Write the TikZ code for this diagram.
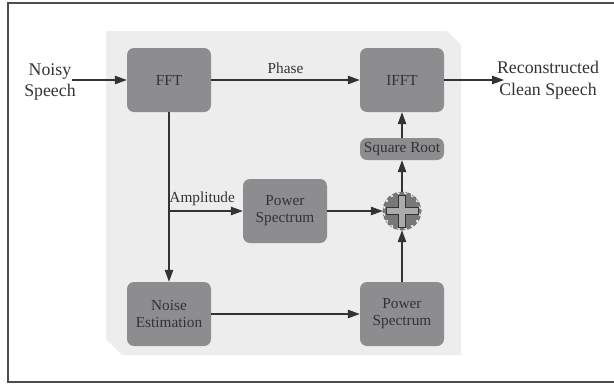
\documentclass[tikz,border=0pt]{standalone}
\usepackage{fontspec}
\setmainfont{Liberation Serif}
\usetikzlibrary{arrows.meta,calc}
\definecolor{boxgray}{HTML}{8D8D90}
\definecolor{panelgray}{HTML}{EDEDED}
\definecolor{ink}{HTML}{333333}
\definecolor{crossgray}{HTML}{ABABAB}
\tikzset{
  blk/.style={draw=none, fill=boxgray, rounded corners=7pt, minimum width=84pt, minimum height=64pt, align=center, font=\fontsize{15.3}{17}\selectfont, text=ink, inner sep=0pt},
  smallblk/.style={blk, minimum height=22pt},
  conn/.style={draw=ink, line width=1.1pt, -{Triangle[length=12pt,width=8.5pt]}},
  lbl/.style={font=\fontsize{15.3}{17}\selectfont, text=ink, inner sep=0pt},
  outer/.style={font=\fontsize{17.8}{21.5}\selectfont, text=ink, align=center, inner sep=0pt}
}
\begin{document}
\begin{tikzpicture}[x=1pt,y=-1pt]
\useasboundingbox (0,0) rectangle (614,386);
% outer frame
\draw[line width=1.5pt, draw=black!70] (614,3) -- (8,3) -- (8,382) -- (614,382);
% panel
\fill[panelgray] (106,31) -- (447,31) -- (461,45) -- (461,355) -- (122,355) -- (106,339) -- cycle;
% blocks
\node[blk] (fft) at (169,80) {FFT};
\node[blk] (ifft) at (402,80) {IFFT};
\node[smallblk] (sqr) at (402,149) {Square Root};
\node[blk] (ps1) at (285,211) {Power\\Spectrum};
\node[blk] (ne) at (169,314) {Noise\\Estimation};
\node[blk] (ps2) at (402,314) {Power\\Spectrum};
% adder
\node[circle, minimum size=38pt, inner sep=0pt] (add) at (402,211) {};
\fill[boxgray!85!black] (add.center) circle (17pt);
\foreach \a in {0,22.5,...,337.5} {
  \fill[boxgray!85!black] ($(add.center)+(\a:17pt)$) circle (2.6pt);
}
\draw[ink!70, line width=0.6pt, dash pattern=on 2pt off 1.5pt] (add.center) circle (19pt);
\draw[ink, line width=0.7pt, fill=crossgray]
  ($(add.center)+(-3.5,-16)$) -- ($(add.center)+(3.5,-16)$) -- ($(add.center)+(3.5,-3.5)$) -- ($(add.center)+(16,-3.5)$) -- ($(add.center)+(16,3.5)$) -- ($(add.center)+(3.5,3.5)$) -- ($(add.center)+(3.5,16)$) -- ($(add.center)+(-3.5,16)$) -- ($(add.center)+(-3.5,3.5)$) -- ($(add.center)+(-16,3.5)$) -- ($(add.center)+(-16,-3.5)$) -- ($(add.center)+(-3.5,-3.5)$) -- cycle;
% io labels
\node[outer] (in) at (50,82) {Noisy\\Speech};
\coordinate (instart) at (72,80);
\node[outer] (out) at (548,80) {Reconstructed\\Clean Speech};
\coordinate (outend) at (504,80);
\coordinate (branch) at (169,211);
% connectors
\draw[conn] (instart) -- (fft.west);
\draw[conn] (fft.east) -- node[lbl, above=6pt] {Phase} (ifft.west);
\draw[conn] (ifft.east) -- (outend);
\draw[conn] (fft.south) -- (ne.north);
\draw[conn] (branch) -- node[lbl, above=5pt, pos=0.45] {Amplitude} (ps1.west);
\draw[conn] (ps1.east) -- (add.west);
\draw[conn] (ps2.north) -- (add.south);
\draw[conn] (add.north) -- (sqr.south);
\draw[conn] (sqr.north) -- (ifft.south);
\draw[conn] (ne.east) -- (ps2.west);
\end{tikzpicture}
\end{document}
